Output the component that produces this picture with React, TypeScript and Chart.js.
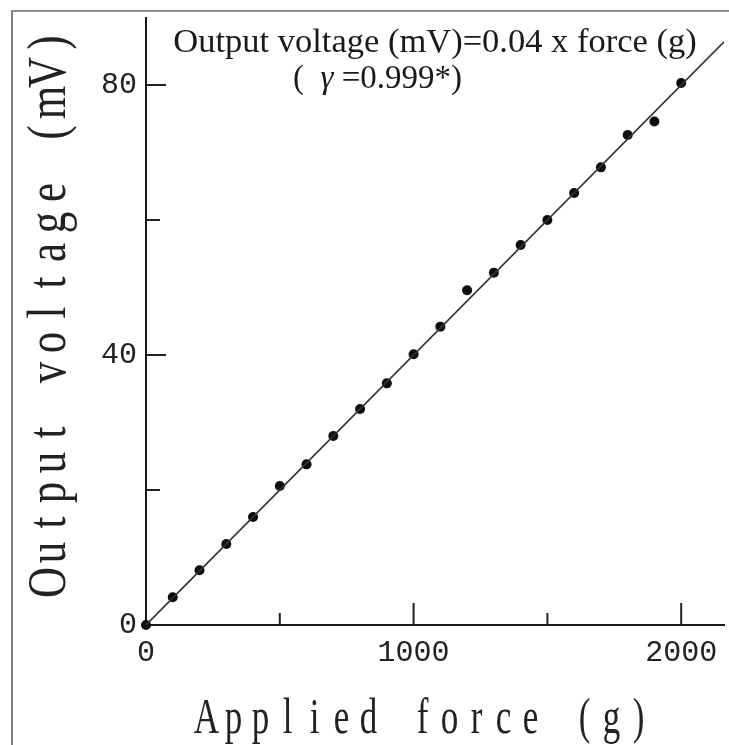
import React, { useEffect, useRef } from "react";
import { Chart, registerables } from "chart.js";

Chart.register(...registerables);

// ---- data ----
const forceG = [0, 100, 200, 300, 400, 500, 600, 700, 800, 900, 1000, 1100, 1200, 1300, 1400, 1500, 1600, 1700, 1800, 1900, 2000];
const voltageMV = [0, 4.1, 8.1, 12.0, 16.0, 20.6, 23.8, 28.0, 32.0, 35.8, 40.1, 44.2, 49.6, 52.2, 56.3, 60.0, 64.0, 67.8, 72.6, 74.6, 80.3];
const fitLineX = [0, 2160];
const fitLineY = [0, 86.4];
const xMajorTicks = [0, 1000, 2000];
const xMinorTicks = [500, 1500];
const yMajorTicks = [0, 40, 80];
const yMinorTicks = [20, 60];
const xAxisTitle = "Applied force (g)";
const yAxisTitle = "Output voltage (mV)";
const equationText = "Output voltage (mV)=0.04 x force (g)";
const rPrefix = "(  ";
const rSymbol = "\u03b3";
const rSuffix = " =0.999*)";

function drawSpaced(ctx: CanvasRenderingContext2D, text: string, cx: number, baseY: number, cell: number, font: string, sx: number) {
  ctx.font = font;
  ctx.textAlign = "center";
  ctx.textBaseline = "alphabetic";
  const n = text.length;
  const start = cx - (n * cell) / 2 + cell / 2;
  for (let i = 0; i < n; i++) {
    const ch = text[i];
    if (ch === " ") continue;
    ctx.save();
    ctx.translate(start + i * cell, baseY);
    ctx.scale(sx, 1);
    ctx.fillText(ch, 0, 0);
    ctx.restore();
  }
}

const decorPlugin = {
  id: "decor",
  beforeDraw(chart: any) {
    const ctx = chart.ctx as CanvasRenderingContext2D;
    ctx.save();
    ctx.fillStyle = "#ffffff";
    ctx.fillRect(0, 0, chart.width, chart.height);
    ctx.lineWidth = 2;
    ctx.strokeStyle = "#7d7d7d";
    ctx.beginPath();
    ctx.moveTo(12, 10);
    ctx.lineTo(12, chart.height);
    ctx.stroke();
    ctx.strokeStyle = "#8c8c9c";
    ctx.beginPath();
    ctx.moveTo(11, 11);
    ctx.lineTo(chart.width, 11);
    ctx.stroke();
    ctx.restore();
  },
  afterDraw(chart: any) {
    const ctx = chart.ctx as CanvasRenderingContext2D;
    const xs = chart.scales.x;
    const ys = chart.scales.y;
    const area = chart.chartArea;
    ctx.save();
    ctx.strokeStyle = "#222";
    ctx.lineWidth = 2;
    const yTick = (v: number, len: number) => {
      const p = ys.getPixelForValue(v);
      ctx.beginPath();
      ctx.moveTo(area.left, p);
      ctx.lineTo(area.left + len, p);
      ctx.stroke();
    };
    yMajorTicks.filter((v) => v > 0).forEach((v) => yTick(v, 20));
    yMinorTicks.forEach((v) => yTick(v, 14));
    const xTick = (v: number, len: number) => {
      const p = xs.getPixelForValue(v);
      ctx.beginPath();
      ctx.moveTo(p, area.bottom);
      ctx.lineTo(p, area.bottom - len);
      ctx.stroke();
    };
    xMajorTicks.filter((v) => v > 0).forEach((v) => xTick(v, 22));
    xMinorTicks.forEach((v) => xTick(v, 12));

    // annotation
    ctx.fillStyle = "#1a1a1a";
    ctx.font = "34.5px 'Liberation Serif'";
    ctx.textAlign = "center";
    ctx.textBaseline = "alphabetic";
    const cx = (area.left + area.right) / 2;
    ctx.fillText(equationText, cx, 52);
    ctx.textAlign = "left";
    let x = 293;
    ctx.font = "33px 'Liberation Serif'";
    ctx.fillText(rPrefix, x, 88);
    x += ctx.measureText(rPrefix).width;
    ctx.font = "italic 33px 'Liberation Serif'";
    ctx.fillText(rSymbol, x, 88);
    x += ctx.measureText(rSymbol).width;
    ctx.font = "33px 'Liberation Serif'";
    ctx.fillText(rSuffix, x, 88);

    // axis titles
    ctx.fillStyle = "#222";
    drawSpaced(ctx, xAxisTitle, 422.5, 733, 27, "50px 'Liberation Serif'", 0.7);
    ctx.save();
    ctx.translate(65, 312.5);
    ctx.rotate(-Math.PI / 2);
    drawSpaced(ctx, yAxisTitle, 0, 0, 30, "55px 'Liberation Serif'", 0.78);
    ctx.restore();
    ctx.restore();
  },
};

export default function App() {
  const canvasRef = useRef<HTMLCanvasElement | null>(null);

  useEffect(() => {
    document.body.style.margin = "0";
    document.body.style.overflow = "hidden";
    const canvas = canvasRef.current;
    if (!canvas) return;
    const points = forceG.map((f, i) => ({ x: f, y: voltageMV[i] }));
    const fit = fitLineX.map((f, i) => ({ x: f, y: fitLineY[i] }));
    const tickFont = { family: "'Liberation Mono'", size: 30 };
    const chart = new Chart(canvas, {
      type: "scatter",
      data: {
        datasets: [
          {
            label: "fit",
            data: fit,
            showLine: true,
            borderColor: "#333",
            borderWidth: 1.6,
            pointRadius: 0,
            fill: false,
          },
          {
            label: "measured",
            data: points,
            showLine: false,
            clip: false,
            pointRadius: 5,
            pointBackgroundColor: "#0d0d0d",
            pointBorderWidth: 0,
          },
        ],
      },
      options: {
        animation: false,
        responsive: true,
        maintainAspectRatio: false,
        layout: { padding: { top: 17.5, right: 3, left: 0, bottom: 0 } },
        plugins: { legend: { display: false }, tooltip: { enabled: false } },
        scales: {
          x: {
            type: "linear",
            min: 0,
            max: 2160,
            afterBuildTicks: (s: any) => {
              s.ticks = xMajorTicks.map((v) => ({ value: v }));
            },
            afterFit: (s: any) => {
              s.height = 120;
              s.paddingLeft = 0;
              s.paddingRight = 0;
            },
            grid: { display: false, drawTicks: false },
            border: { display: true, color: "#1a1a1a", width: 2 },
            ticks: { font: tickFont, color: "#222", padding: 10, maxRotation: 0, callback: (v: any) => String(v) },
          },
          y: {
            type: "linear",
            min: 0,
            max: 90,
            afterBuildTicks: (s: any) => {
              s.ticks = yMajorTicks.map((v) => ({ value: v }));
            },
            afterFit: (s: any) => {
              s.width = 146;
              s.paddingTop = 0;
              s.paddingBottom = 0;
            },
            grid: { display: false, drawTicks: false },
            border: { display: true, color: "#1a1a1a", width: 2 },
            ticks: { font: tickFont, color: "#222", padding: 9, callback: (v: any) => String(v) },
          },
        },
      },
      plugins: [decorPlugin],
    });
    return () => chart.destroy();
  }, []);

  return (
    <div style={{ position: "relative", width: 729, height: 745 }}>
      <canvas ref={canvasRef} />
    </div>
  );
}
